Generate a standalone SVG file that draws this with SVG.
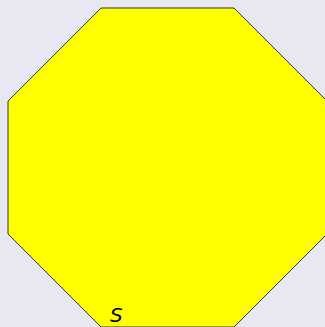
<svg xmlns="http://www.w3.org/2000/svg" width="325" height="327" viewBox="0 0 325 327">
<style>
.bg{fill:#e8e8f2}
.oct{fill:#ffff00;stroke:#333333;stroke-width:1}
.lbl{font-family:"DejaVu Sans",sans-serif;font-style:italic;font-size:20px;fill:#000}
</style>
<rect class="bg" x="0" y="0" width="325" height="327"/>
<g id="S">
<polygon class="oct" points="101,8 234,8 327,101 327,234 234,327 101,327 8,234 8,101"/>
<text class="lbl" x="110" y="322">S</text>
</g>
<g id="connectors"/>
</svg>
